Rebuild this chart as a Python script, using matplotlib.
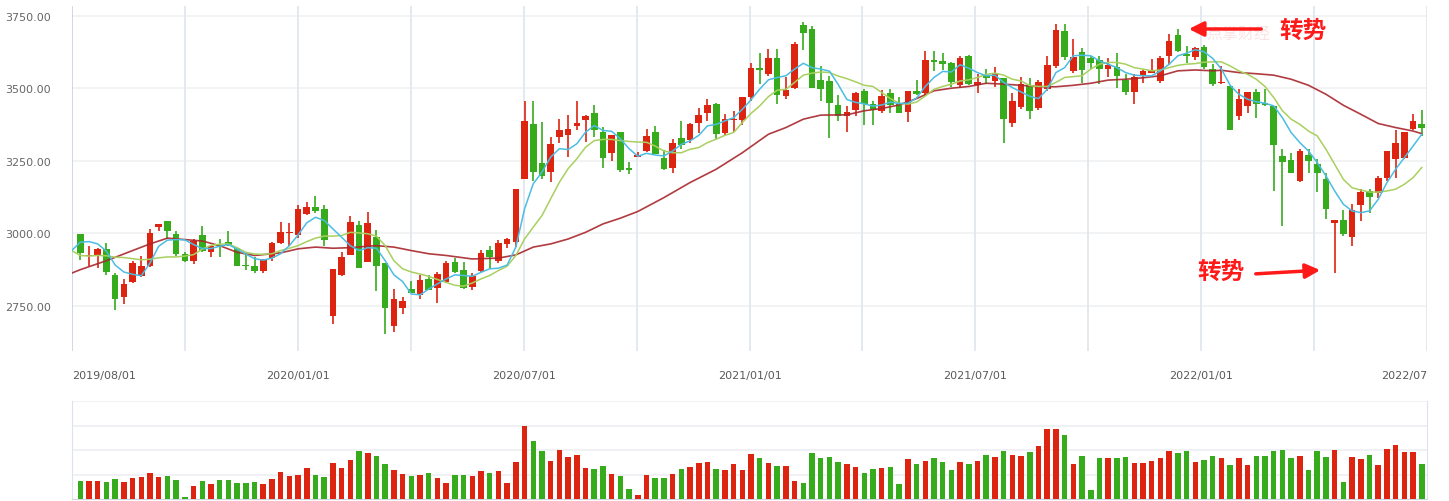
import numpy as np
import matplotlib.pyplot as plt

# weekly candles (k = 0 .. 154)
opens = [2998, 2920, 2925, 2946, 2856, 2781, 2833, 2852, 2886, 3023,
         3043, 2996, 2927, 2905, 2994, 2934, 2957, 2968, 2949, 2890,
         2886, 2871, 2913, 2966, 3000, 2994, 3068, 3091, 3084, 2715,
         2856, 2923, 3029, 2900, 2987, 2897, 2678, 2740, 2807, 2787,
         2842, 2812, 2830, 2900, 2873, 2814, 2871, 2942, 2904, 2963,
         2971, 3186, 3378, 3243, 3211, 3331, 3341, 3372, 3390, 3416,
         3349, 3276, 3349, 3226, 3263, 3285, 3349, 3259, 3226, 3328,
         3322, 3380, 3414, 3446, 3345, 3391, 3391, 3472, 3570, 3549,
         3605, 3474, 3501, 3719, 3705, 3529, 3525, 3443, 3404, 3426,
         3492, 3447, 3423, 3485, 3445, 3420, 3491, 3483, 3599, 3595,
         3588, 3513, 3612, 3511, 3546, 3525, 3536, 3380, 3436, 3511,
         3432, 3497, 3578, 3698, 3561, 3625, 3607, 3598, 3567, 3575,
         3529, 3488, 3546, 3555, 3526, 3613, 3684, 3620, 3608, 3645,
         3569, 3520, 3507, 3405, 3439, 3488, 3449, 3440, 3267, 3254,
         3180, 3269, 3238, 3186, 3034, 3045, 2988, 3099, 3147, 3140,
         3192, 3255, 3261, 3359, 3379]
highs = [2998, 2957, 2950, 2967, 2863, 2842, 2904, 2920, 3015, 3031,
         3043, 3006, 2935, 2981, 3025, 2960, 2980, 3009, 2950, 2928,
         2918, 2912, 2971, 3040, 3035, 3098, 3108, 3129, 3098, 2877,
         2934, 3060, 3043, 3074, 3012, 2897, 2807, 2779, 2835, 2856,
         2854, 2867, 2903, 2916, 2900, 2863, 2942, 2956, 2975, 2984,
         3153, 3458, 3458, 3383, 3332, 3393, 3409, 3458, 3409, 3444,
         3367, 3340, 3349, 3246, 3280, 3360, 3371, 3288, 3325, 3387,
         3380, 3433, 3465, 3450, 3411, 3423, 3472, 3587, 3624, 3636,
         3636, 3538, 3661, 3728, 3717, 3578, 3544, 3477, 3440, 3488,
         3497, 3456, 3496, 3499, 3470, 3491, 3530, 3628, 3631, 3623,
         3593, 3613, 3614, 3549, 3567, 3574, 3536, 3484, 3541, 3536,
         3530, 3612, 3722, 3722, 3670, 3641, 3613, 3612, 3607, 3622,
         3549, 3549, 3565, 3601, 3613, 3688, 3707, 3646, 3645, 3651,
         3586, 3576, 3507, 3498, 3489, 3497, 3497, 3440, 3290, 3278,
         3290, 3290, 3255, 3207, 3045, 3080, 3100, 3152, 3152, 3198,
         3284, 3356, 3348, 3413, 3425]
lows = [2909, 2886, 2881, 2854, 2736, 2756, 2829, 2850, 2883, 3007,
        2980, 2922, 2902, 2893, 2935, 2918, 2919, 2955, 2885, 2872,
        2861, 2861, 2905, 2964, 2956, 2985, 3062, 3070, 2955, 2686,
        2852, 2923, 2879, 2900, 2802, 2652, 2658, 2722, 2793, 2773,
        2805, 2759, 2828, 2863, 2808, 2805, 2865, 2878, 2897, 2950,
        2954, 3186, 3182, 3186, 3176, 3310, 3265, 3355, 3315, 3331,
        3225, 3251, 3211, 3203, 3262, 3280, 3274, 3218, 3207, 3290,
        3311, 3346, 3387, 3324, 3338, 3348, 3373, 3457, 3515, 3544,
        3446, 3462, 3497, 3632, 3503, 3457, 3330, 3388, 3348, 3405,
        3374, 3374, 3417, 3417, 3414, 3383, 3479, 3475, 3562, 3565,
        3504, 3500, 3511, 3484, 3515, 3504, 3311, 3368, 3428, 3394,
        3425, 3490, 3570, 3600, 3555, 3518, 3569, 3514, 3538, 3501,
        3478, 3446, 3519, 3552, 3520, 3580, 3625, 3588, 3600, 3568,
        3510, 3516, 3357, 3391, 3417, 3398, 3440, 3146, 3025, 3208,
        3176, 3208, 3142, 3050, 2861, 2992, 2955, 3042, 3071, 3120,
        3180, 3192, 3255, 3355, 3336]
closes = [2930, 2925, 2946, 2867, 2774, 2825, 2897, 2886, 3001, 3031,
          3006, 2929, 2903, 2972, 2937, 2955, 2955, 2959, 2888, 2885,
          2871, 2911, 2966, 3005, 3004, 3084, 3090, 3075, 2975, 2877,
          2918, 3039, 2879, 3036, 2886, 2743, 2772, 2766, 2794, 2840,
          2805, 2859, 2897, 2867, 2812, 2852, 2931, 2917, 2967, 2979,
          3153, 3386, 3213, 3197, 3309, 3355, 3361, 3382, 3405, 3355,
          3259, 3340, 3218, 3219, 3271, 3336, 3274, 3221, 3311, 3304,
          3376, 3407, 3442, 3342, 3394, 3395, 3472, 3570, 3564, 3605,
          3478, 3495, 3653, 3691, 3503, 3497, 3450, 3404, 3418, 3485,
          3447, 3425, 3473, 3444, 3415, 3491, 3481, 3599, 3590, 3585,
          3524, 3605, 3516, 3522, 3536, 3551, 3396, 3456, 3515, 3423,
          3523, 3580, 3702, 3609, 3610, 3563, 3587, 3567, 3582, 3544,
          3488, 3538, 3560, 3562, 3605, 3663, 3630, 3613, 3639, 3573,
          3516, 3524, 3357, 3463, 3489, 3445, 3442, 3305, 3246, 3208,
          3284, 3251, 3209, 3085, 3045, 2996, 3080, 3142, 3125, 3191,
          3284, 3313, 3348, 3386, 3365]
volumes = [18, 18, 18, 17, 20, 17, 21, 22, 27, 22,
           23, 19, 2, 13, 18, 15, 19, 19, 16, 16,
           17, 15, 20, 28, 23, 24, 32, 25, 22, 37,
           32, 40, 49, 47, 44, 36, 30, 26, 23, 25,
           27, 21, 16, 24, 25, 23, 29, 27, 29, 16,
           38, 75, 59, 49, 39, 50, 43, 45, 32, 31,
           34, 26, 23, 10, 4, 25, 21, 21, 26, 31,
           33, 37, 38, 31, 30, 36, 30, 46, 42, 37,
           34, 34, 18, 16, 47, 42, 43, 38, 36, 33,
           27, 31, 32, 33, 15, 41, 36, 39, 42, 38,
           30, 38, 36, 39, 45, 43, 49, 45, 44, 48,
           54, 71, 71, 65, 36, 44, 9, 42, 42, 42,
           43, 37, 37, 39, 42, 49, 47, 49, 38, 40,
           44, 42, 35, 42, 35, 44, 44, 49, 50, 42,
           44, 30, 49, 43, 50, 17, 43, 41, 45, 35,
           51, 55, 48, 48, 36]

# moving averages, k = -1 .. 154 (first point sits left of the axis)
ma5 = [2940, 2969, 2971, 2963, 2938, 2890, 2866, 2858, 2853, 2897,
       2955, 2976, 2978, 2977, 2961, 2947, 2947, 2955, 2961, 2945,
       2928, 2912, 2907, 2914, 2929, 2957, 2994, 3036, 3055, 3044,
       3015, 2986, 2957, 2940, 2950, 2948, 2905, 2856, 2833, 2790,
       2787, 2807, 2825, 2842, 2856, 2854, 2851, 2865, 2877, 2879,
       2890, 2952, 3084, 3171, 3211, 3263, 3292, 3289, 3309, 3349,
       3372, 3355, 3352, 3326, 3292, 3266, 3276, 3270, 3267, 3284,
       3307, 3319, 3338, 3371, 3376, 3388, 3399, 3428, 3461, 3498,
       3530, 3538, 3544, 3567, 3587, 3572, 3567, 3560, 3514, 3462,
       3452, 3447, 3439, 3443, 3453, 3448, 3449, 3467, 3507, 3538,
       3559, 3557, 3582, 3570, 3555, 3544, 3546, 3521, 3503, 3488,
       3473, 3465, 3497, 3555, 3572, 3613, 3615, 3613, 3595, 3584,
       3572, 3555, 3546, 3544, 3544, 3561, 3584, 3613, 3622, 3634,
       3627, 3604, 3567, 3511, 3480, 3463, 3454, 3449, 3440, 3399,
       3348, 3313, 3284, 3244, 3198, 3146, 3100, 3077, 3071, 3077,
       3117, 3175, 3221, 3261, 3301, 3342]
ma10 = [2940, 2923, 2921, 2923, 2922, 2917, 2916, 2912, 2908, 2910,
        2915, 2918, 2918, 2921, 2926, 2945, 2958, 2962, 2963, 2950,
        2934, 2928, 2927, 2929, 2940, 2948, 2957, 2971, 2983, 2990,
        2990, 2992, 3003, 3001, 2998, 2990, 2957, 2905, 2877, 2866,
        2859, 2851, 2840, 2830, 2820, 2817, 2828, 2842, 2854, 2871,
        2886, 2923, 2980, 3021, 3061, 3119, 3176, 3223, 3257, 3297,
        3320, 3324, 3324, 3320, 3317, 3315, 3314, 3301, 3284, 3278,
        3278, 3290, 3296, 3313, 3325, 3338, 3348, 3382, 3414, 3440,
        3472, 3494, 3497, 3521, 3546, 3553, 3557, 3555, 3543, 3534,
        3523, 3511, 3507, 3486, 3465, 3449, 3446, 3453, 3474, 3497,
        3507, 3515, 3526, 3530, 3538, 3549, 3553, 3546, 3532, 3526,
        3510, 3507, 3507, 3521, 3538, 3541, 3544, 3567, 3584, 3590,
        3590, 3584, 3572, 3567, 3561, 3564, 3572, 3580, 3584, 3586,
        3591, 3592, 3592, 3578, 3561, 3549, 3532, 3507, 3469, 3423,
        3394, 3376, 3353, 3336, 3290, 3238, 3186, 3157, 3149, 3142,
        3142, 3146, 3152, 3169, 3192, 3227]
# slow average, read at every second candle or so
ma30_idx = [-1, 0, 3, 6, 8, 10, 12, 14, 16, 18, 20, 23, 25, 27, 29, 31, 33, 34,
            36, 38, 40, 42, 45, 48, 50, 52, 54, 56, 58, 60, 62, 64, 67, 70, 73,
            76, 79, 81, 83, 85, 88, 90, 92, 94, 96, 98, 100, 102, 104, 106, 108,
            110, 112, 114, 116, 118, 120, 122, 124, 126, 128, 130, 131, 133, 135,
            137, 139, 141, 143, 145, 147, 149, 151, 153, 154]
ma30 = [2862, 2874, 2905, 2940, 2963, 2983, 2978, 2973, 2957, 2934, 2923, 2932,
        2946, 2952, 2948, 2950, 2955, 2957, 2952, 2940, 2929, 2923, 2911, 2914,
        2925, 2952, 2963, 2980, 3003, 3032, 3052, 3075, 3123, 3175, 3221, 3278,
        3342, 3365, 3394, 3408, 3409, 3423, 3431, 3443, 3465, 3492, 3501, 3507,
        3518, 3515, 3511, 3506, 3506, 3511, 3518, 3529, 3532, 3537, 3544, 3561,
        3564, 3561, 3563, 3555, 3551, 3546, 3532, 3511, 3480, 3442, 3411, 3379,
        3365, 3353, 3344]

yticks = [2750, 3000, 3250, 3500, 3750]
xlabels = ['2019/08/01', '2020/01/01', '2020/07/01', '2021/01/01',
           '2021/07/01', '2022/01/01', '2022/07']

RED = '#dd2411'
GREEN = '#36ab1c'

W, H = 1449, 502
fig = plt.figure(figsize=(W / 100, H / 100), dpi=100)
ax = fig.add_axes([72 / W, 150 / H, 1355 / W, 345 / H])
axv = fig.add_axes([72 / W, 2 / H, 1355 / W, 98 / H])

opens = np.array(opens)
highs = np.array(highs)
lows = np.array(lows)
closes = np.array(closes)
x = np.arange(len(closes))
colors = np.where(closes >= opens, RED, GREEN)

xmin, xmax = -0.953, 154.6

#%% price panel
for v in yticks:
    ax.axhline(v, color='#eff1f4', lw=1.2, zorder=0)
for g in np.linspace(xmin, xmax, 13)[1:]:
    ax.axvline(g, color='#e4e9f0', lw=1.4, zorder=0)
ax.axvline(xmin, color='#c9d1dd', lw=1.2, zorder=1)

ax.vlines(x, lows, highs, colors=colors, lw=1.2, zorder=3)
body_low = np.minimum(opens, closes)
body_h = np.maximum(np.abs(closes - opens), 4)
ax.bar(x, body_h, bottom=body_low, width=0.76, color=colors, lw=0, zorder=4)

mx = np.arange(-1, len(closes))
ax.plot(ma30_idx, ma30, color='#a8262c', lw=1.2, alpha=0.9, zorder=5)
ax.plot(mx, ma10, color='#a9d05e', lw=1.1, zorder=5)
ax.plot(mx, ma5, color='#4bbde3', lw=1.1, zorder=6)

ax.set_xlim(xmin, xmax)
ax.set_ylim(2593, 3785)
ax.set_xticks([])
ax.set_yticks(yticks)
ax.set_yticklabels(['%.2f' % v for v in yticks])
ax.tick_params(axis='y', length=0, pad=15, labelsize=8, labelcolor='#666666')
for s in ax.spines.values():
    s.set_visible(False)

# date labels under the price panel
lab_x = np.linspace(72, 1427, 7)
for i, t in enumerate(xlabels):
    ha = 'center'
    if i == 0:
        ha = 'left'
    elif i == len(xlabels) - 1:
        ha = 'right'
    fig.text(lab_x[i] / W, (H - 376) / H, t, ha=ha, va='center',
             fontsize=8, color='#5a5a5a')

#%% volume panel
for v in [25, 50, 74, 100]:
    axv.axhline(v, color='#eceff4', lw=1.2, zorder=0)
axv.bar(x, volumes, width=0.63, color=colors, lw=0, zorder=3)
axv.set_xlim(xmin, xmax)
axv.set_ylim(0, 100)
axv.set_xticks([])
axv.set_yticks([])
axv.spines['top'].set_visible(False)
axv.spines['bottom'].set_color('#cdd5e1')
axv.spines['left'].set_color('#dde3ec')
axv.spines['right'].set_color('#dde3ec')

#%% annotations
cjk = ['Noto Sans CJK SC', 'DejaVu Sans']
# faint site watermark, kept clear of the red label
fig.text(1206 / W, (H - 34) / H, '点掌财经', fontsize=11.5, color='#fbe3e3',
         family=cjk, ha='left', va='center', zorder=0)
fig.text(1303 / W, (H - 31) / H, '转势', fontsize=17, color='#ff1a1a',
         family=cjk, weight='bold', ha='center', va='center')
fig.text(1221 / W, (H - 272) / H, '转势', fontsize=17, color='#ff1a1a',
         family=cjk, weight='bold', ha='center', va='center')

arrow = dict(arrowstyle='-|>', color='#ff1a1a', lw=2.5, mutation_scale=22)
fig.add_artist(plt.Annotation('', xy=(1186, H - 30), xytext=(1264, H - 30),
                              xycoords='figure pixels', textcoords='figure pixels',
                              arrowprops=arrow))
fig.add_artist(plt.Annotation('', xy=(1323, H - 271), xytext=(1253, H - 275),
                              xycoords='figure pixels', textcoords='figure pixels',
                              arrowprops=arrow))

fig.savefig('out.png', dpi=100)
